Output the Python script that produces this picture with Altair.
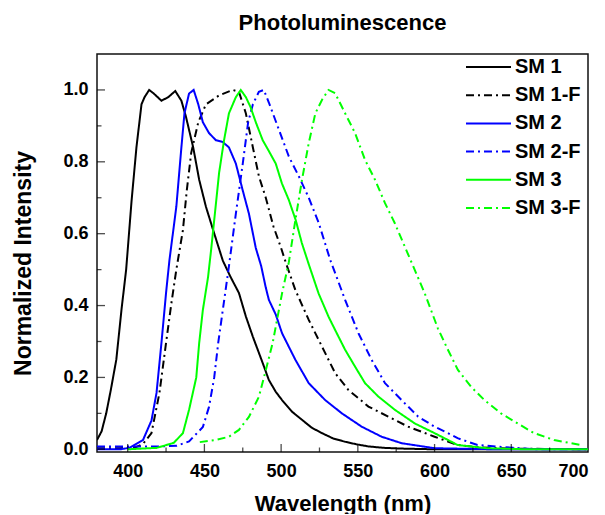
import altair as alt
import pandas as pd

# ---------------- data ----------------
series_names = ["SM 1", "SM 1-F", "SM 2", "SM 2-F", "SM 3", "SM 3-F"]
series_colors = ["#000000", "#000000", "#0000ff", "#0000ff", "#00ff00", "#00ff00"]
series_dashes = [[1, 0], [8, 4, 2, 4], [1, 0], [8, 4, 2, 4], [1, 0], [8, 4, 2, 4]]

sm1_x = [380, 383, 386, 389, 392.6, 396, 399, 402.5, 405.7, 409, 411, 414, 417, 422, 426.5, 431, 435,
         438, 442.7, 446.6, 451, 455.7, 462, 467, 472.5, 477, 481.6, 488, 492, 496.5, 500.6, 507,
         513.6, 520, 526.6, 534, 541.7, 549, 556.9, 567, 578.5, 600, 650, 700]
sm1_y = [0.026, 0.05, 0.10, 0.165, 0.25, 0.39, 0.50, 0.69, 0.84, 0.96, 0.98, 1.0, 0.99, 0.97, 0.98,
         0.997, 0.97, 0.925, 0.84, 0.75, 0.675, 0.61, 0.525, 0.48, 0.435, 0.37, 0.313, 0.24, 0.193,
         0.16, 0.137, 0.105, 0.082, 0.06, 0.045, 0.03, 0.021, 0.014, 0.008, 0.004, 0.002, 0.0, 0.0, 0.0]

sm1f_x = [380, 395, 405, 410, 415.5, 420.7, 425, 428.5, 431.7, 436, 438.5, 441.4, 446, 451, 459.6,
          468.6, 472.5, 477, 481.6, 485.5, 490, 495, 500, 503, 509.3, 518, 526.6, 535.2, 543.9,
          556.9, 569.8, 582.8, 600, 615, 630, 650, 700]
sm1f_y = [0.003, 0.003, 0.005, 0.015, 0.045, 0.157, 0.296, 0.407, 0.50, 0.61, 0.72, 0.825, 0.91,
          0.96, 0.985, 1.0, 0.995, 0.935, 0.84, 0.76, 0.70, 0.62, 0.56, 0.52, 0.443, 0.36, 0.286,
          0.212, 0.165, 0.119, 0.091, 0.063, 0.035, 0.012, 0.005, 0.002, 0.0]

sm2_x = [380, 395, 401, 410, 415.5, 418.8, 422, 425, 427.2, 431.7, 435, 437, 440, 443, 446, 449,
         453, 457.5, 462, 466, 470.5, 475, 479, 483.5, 487, 490, 492, 496.5, 500.6, 509.3, 518,
         528.7, 539.6, 552.5, 565.5, 578.5, 600, 640, 700]
sm2_y = [0.0, 0.0, 0.004, 0.026, 0.08, 0.157, 0.296, 0.435, 0.526, 0.675, 0.84, 0.935, 0.99, 1.0,
         0.96, 0.91, 0.88, 0.86, 0.855, 0.84, 0.795, 0.72, 0.656, 0.56, 0.51, 0.45, 0.416, 0.375,
         0.323, 0.249, 0.184, 0.137, 0.1, 0.063, 0.035, 0.017, 0.003, 0.0, 0.0]

sm2f_x = [380, 400, 420, 432, 440, 449, 453, 456.4, 459, 462, 466, 470.5, 475, 478.5, 481.6, 485.5,
          488.7, 492, 498.5, 505, 511.5, 518, 524.5, 532, 541.7, 550.4, 559, 567.7, 578.5, 589.3,
          600, 608.7, 615, 628, 645, 667, 700]
sm2f_y = [0.008, 0.008, 0.008, 0.01, 0.022, 0.062, 0.118, 0.2, 0.296, 0.388, 0.51, 0.656, 0.795,
          0.91, 0.96, 0.995, 1.0, 0.965, 0.89, 0.815, 0.76, 0.70, 0.63, 0.527, 0.416, 0.323, 0.249,
          0.184, 0.137, 0.091, 0.063, 0.045, 0.031, 0.012, 0.006, 0.0, 0.0]

sm3_x = [400, 419, 430, 436, 440, 444.7, 446.6, 449, 452.4, 454.5, 456.4, 459.6, 462.8, 466, 470.5,
         473.7, 477, 480, 483.5, 488, 492, 496.5, 500.5, 505, 509.5, 513.5, 518, 524.4, 530.9,
         535.2, 541.7, 548.2, 554.7, 563.3, 574.1, 587.1, 600, 608.7, 615, 634, 660, 700]
sm3_y = [0.0, 0.004, 0.018, 0.045, 0.11, 0.2, 0.296, 0.388, 0.48, 0.56, 0.638, 0.77, 0.86, 0.935,
         0.98, 1.0, 0.98, 0.953, 0.91, 0.86, 0.83, 0.795, 0.74, 0.694, 0.638, 0.574, 0.515, 0.434,
         0.369, 0.332, 0.277, 0.23, 0.184, 0.147, 0.11, 0.072, 0.045, 0.026, 0.012, 0.003, 0.0, 0.0]

sm3f_x = [447, 457.6, 466, 472.5, 479, 485.5, 490, 494.5, 500.6, 505, 509.3, 513.6, 518, 522.3,
          526.6, 530.9, 535.2, 541.7, 548.2, 554.7, 561.2, 567.7, 574.1, 580.6, 586, 593.6, 602.2,
          608.7, 615.2, 623.8, 632.5, 643.3, 654.1, 664.9, 677.9, 695]
sm3f_y = [0.02, 0.026, 0.035, 0.054, 0.09, 0.146, 0.22, 0.296, 0.434, 0.52, 0.638, 0.75, 0.852,
          0.935, 0.972, 1.0, 0.991, 0.935, 0.88, 0.805, 0.75, 0.685, 0.629, 0.564, 0.51, 0.434,
          0.336, 0.277, 0.221, 0.174, 0.137, 0.1, 0.072, 0.045, 0.026, 0.012]

x_major = [400, 450, 500, 550, 600, 650]
x_minor = [425, 475, 525, 575, 625, 675]
y_major = [0.0, 0.2, 0.4, 0.6, 0.8, 1.0]
y_minor = [0.1, 0.3, 0.5, 0.7, 0.9]
x_labels = [400, 450, 500, 550, 600, 650, 700]

# ---------------- build table ----------------
series_data = [(series_names[0], sm1_x, sm1_y), (series_names[1], sm1f_x, sm1f_y),
               (series_names[2], sm2_x, sm2_y), (series_names[3], sm2f_x, sm2f_y),
               (series_names[4], sm3_x, sm3_y), (series_names[5], sm3f_x, sm3f_y)]
rows = []
for name, xs, ys in series_data:
    for i, (a, b) in enumerate(zip(xs, ys)):
        rows.append({"series": name, "wl": a, "inten": b, "order": i})
df = pd.DataFrame(rows)

W, H = 491, 398
FONT = "Liberation Sans"
xscale = alt.Scale(domain=[380, 700], nice=False, zero=False)
yscale = alt.Scale(domain=[-0.0075, 1.1], nice=False, zero=False)

xaxis = alt.Axis(values=x_labels, title="Wavelength (nm)", format="d", titleFontSize=22,
                 labelPadding=10,
                 titleX=W / 2, titleY=51, titleAlign="center", titleBaseline="middle")
yaxis = alt.Axis(values=y_major, format=".1f", title="Normalized Intensity", titleFontSize=23,
                 labelPadding=9,
                 titleX=-74, titleY=H / 2 + 10, titleAngle=270, titleAlign="center",
                 titleBaseline="middle")

# line symbol: a horizontal stroke 5 units long in the [-1, 1] symbol box
legend = alt.Legend(title=None, orient="none", legendX=381.5, legendY=3,
                    symbolType="M-2.5,0H2.5", symbolSize=324, symbolStrokeWidth=2,
                    labelFont=FONT, labelFontSize=20, labelFontWeight="bold",
                    labelColor="black", labelOffset=16.5, rowPadding=8.2, padding=0)

lines = alt.Chart(df).mark_line(strokeWidth=2, clip=True).encode(
    x=alt.X("wl:Q", scale=xscale, axis=xaxis),
    y=alt.Y("inten:Q", scale=yscale, axis=yaxis),
    color=alt.Color("series:N", scale=alt.Scale(domain=series_names, range=series_colors),
                    legend=legend),
    strokeDash=alt.StrokeDash("series:N", scale=alt.Scale(domain=series_names, range=series_dashes),
                              legend=legend),
    order="order:Q",
)

def xticks(vals, size):
    return alt.Chart(pd.DataFrame({"wl": vals})).mark_tick(
        orient="vertical", size=size, thickness=1.3, color="black").encode(
        x=alt.X("wl:Q", scale=xscale, axis=xaxis), y=alt.value(H - size / 2))

def yticks(vals, size):
    return alt.Chart(pd.DataFrame({"inten": vals})).mark_tick(
        orient="horizontal", size=size, thickness=1.3, color="black").encode(
        y=alt.Y("inten:Q", scale=yscale, axis=yaxis), x=alt.value(size / 2))

chart = alt.layer(
    lines, xticks(x_major, 8), xticks(x_minor, 4.5), yticks(y_major, 8), yticks(y_minor, 4.5)
).properties(
    width=W, height=H,
    title=alt.TitleParams("Photoluminescence", font=FONT, fontSize=22, fontWeight="bold",
                          color="black", anchor="middle", offset=2, baseline="alphabetic"),
    autosize=alt.AutoSizeParams(type="none"),
    padding={"left": 89, "top": 46, "right": 8, "bottom": 62},
).configure_view(
    stroke="#111111", strokeWidth=1.5
).configure_axis(
    labelFont=FONT, labelFontSize=18, labelFontWeight="bold", labelColor="black",
    titleFont=FONT, titleFontWeight="bold", titleColor="black",
    grid=False, ticks=False, tickSize=0, domain=False,
)

chart.save("out.html", embed_options={"renderer": "svg", "actions": False})
